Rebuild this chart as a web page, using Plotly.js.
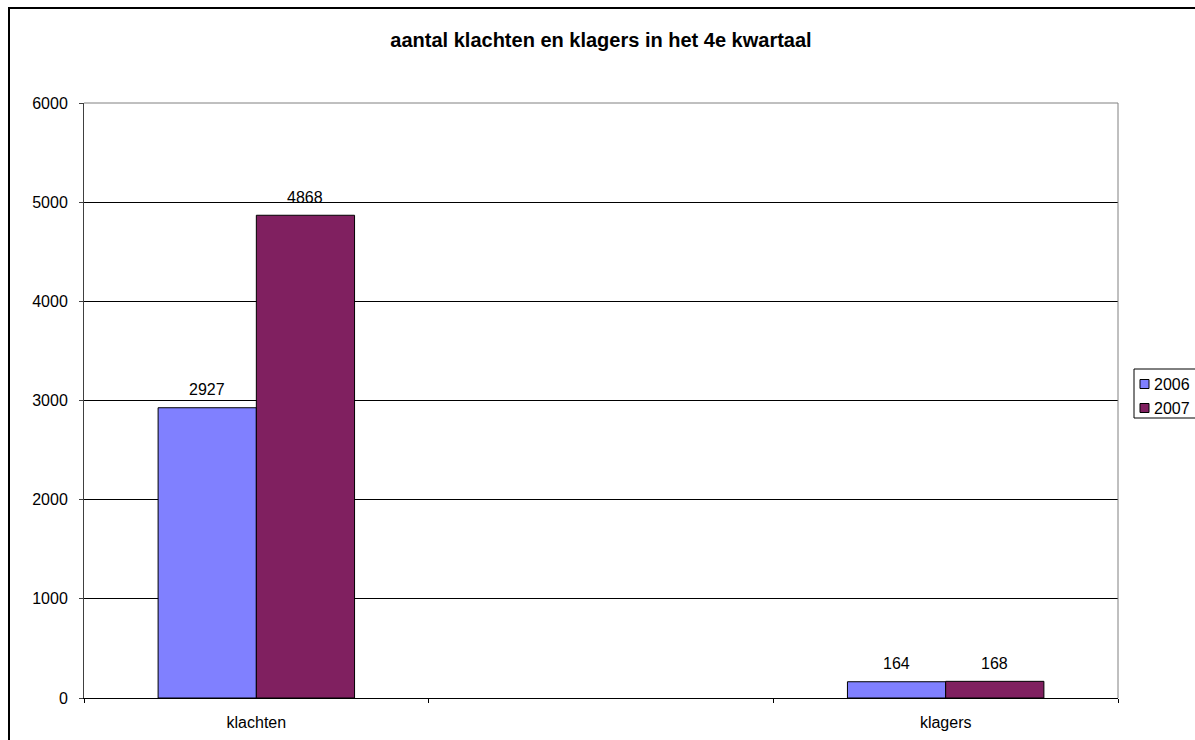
<!DOCTYPE html>
<html>
<head>
<meta charset="utf-8">
<script src="https://cdn.plot.ly/plotly-3.0.1.min.js"></script>
<style>
html,body{margin:0;padding:0;background:#fff;overflow:hidden;}
#chart{width:1195px;height:740px;}
</style>
</head>
<body>
<div id="chart"></div>
<script>
const categories = ["klachten", " ", "klagers"];
const seriesNames = ["2006", "2007"];
const values2006 = [2927, null, 164];
const values2007 = [4868, null, 168];
const yTicks = [0, 1000, 2000, 3000, 4000, 5000, 6000];

const colors = ["#8080FF", "#802060"];
const allValues = [values2006, values2007];
const FONT = "Arial, 'Liberation Sans', sans-serif";

const W = 1195, H = 740;
const L = 84, R = 1118, T = 103, B = 698;
const px2x = p => (p - L) / (R - L);
const py2y = p => (B - p) / (B - T);

const traces = allValues.map((vals, i) => ({
  type: "bar",
  name: seriesNames[i],
  x: categories,
  y: vals,
  marker: {color: colors[i], line: {color: "#000", width: 1}},
  showlegend: false,
  hoverinfo: "skip"
}));

const annotations = [];
allValues.forEach((vals, i) => {
  vals.forEach((v, j) => {
    if (v === null) return;
    annotations.push({
      x: categories[j], y: v, xref: "x", yref: "y",
      text: String(v), showarrow: false,
      xshift: i === 0 ? -49 : 49, yshift: 18,
      font: {family: FONT, size: 16, color: "#000"}
    });
  });
});

// Legend (Excel style), built from series names and colours
const legendShapes = [
  {type: "rect", xref: "paper", yref: "paper",
   x0: px2x(1134), x1: px2x(1202), y0: py2y(418), y1: py2y(369),
   line: {color: "#000", width: 1}, fillcolor: "#fff", layer: "above"}
];
seriesNames.forEach((name, i) => {
  const cy = 384 + i * 24;
  legendShapes.push({
    type: "rect", xref: "paper", yref: "paper",
    x0: px2x(1140), x1: px2x(1149), y0: py2y(cy + 4.5), y1: py2y(cy - 4.5),
    line: {color: "#000", width: 1}, fillcolor: colors[i], layer: "above"
  });
  annotations.push({
    xref: "paper", yref: "paper", x: px2x(1152), y: py2y(cy),
    xanchor: "left", yanchor: "middle", showarrow: false,
    text: name, font: {family: FONT, size: 16, color: "#000"}
  });
});

const layout = {
  width: W, height: H,
  margin: {l: L, r: W - R, t: T, b: H - B, pad: 0, autoexpand: false},
  paper_bgcolor: "#fff",
  plot_bgcolor: "#fff",
  font: {family: FONT, size: 16, color: "#000"},
  title: {
    text: "<b>aantal klachten en klagers in het 4e kwartaal</b>",
    font: {family: FONT, size: 20, color: "#000"},
    x: 0.5, xref: "paper", xanchor: "center",
    y: 1 - 40 / H, yref: "container", yanchor: "middle"
  },
  barmode: "group",
  bargap: 0.43,
  bargroupgap: 0,
  showlegend: false,
  xaxis: {
    type: "category",
    categoryorder: "array",
    categoryarray: categories,
    range: [-0.5, categories.length - 0.5],
    tickson: "boundaries",
    ticks: "outside", ticklen: 4, tickcolor: "#000", tickwidth: 1,
    showline: true, linecolor: "#000", linewidth: 1,
    showgrid: false, zeroline: false,
    ticklabelstandoff: 10,
    tickfont: {family: FONT, size: 16, color: "#000"},
    fixedrange: true
  },
  yaxis: {
    range: [0, 6000],
    tickvals: yTicks,
    ticktext: yTicks.map(String),
    ticks: "outside", ticklen: 4, tickcolor: "#404040", tickwidth: 1,
    showline: true, linecolor: "#404040", linewidth: 1,
    showgrid: true, gridcolor: "#000", gridwidth: 1,
    zeroline: false,
    ticklabelstandoff: 8,
    tickfont: {family: FONT, size: 16, color: "#000"},
    fixedrange: true
  },
  shapes: [
    {type: "path", xref: "paper", yref: "paper",
     path: "M 0 1 L 1 1 L 1 0", line: {color: "#808080", width: 1}, layer: "above"},
    {type: "rect", xref: "paper", yref: "paper",
     x0: px2x(9), x1: px2x(1202), y0: py2y(748), y1: py2y(8),
     line: {color: "#000", width: 2}, fillcolor: "rgba(0,0,0,0)", layer: "above"}
  ].concat(legendShapes),
  annotations: annotations
};

Plotly.newPlot("chart", traces, layout, {displayModeBar: false, staticPlot: true});
</script>
</body>
</html>
